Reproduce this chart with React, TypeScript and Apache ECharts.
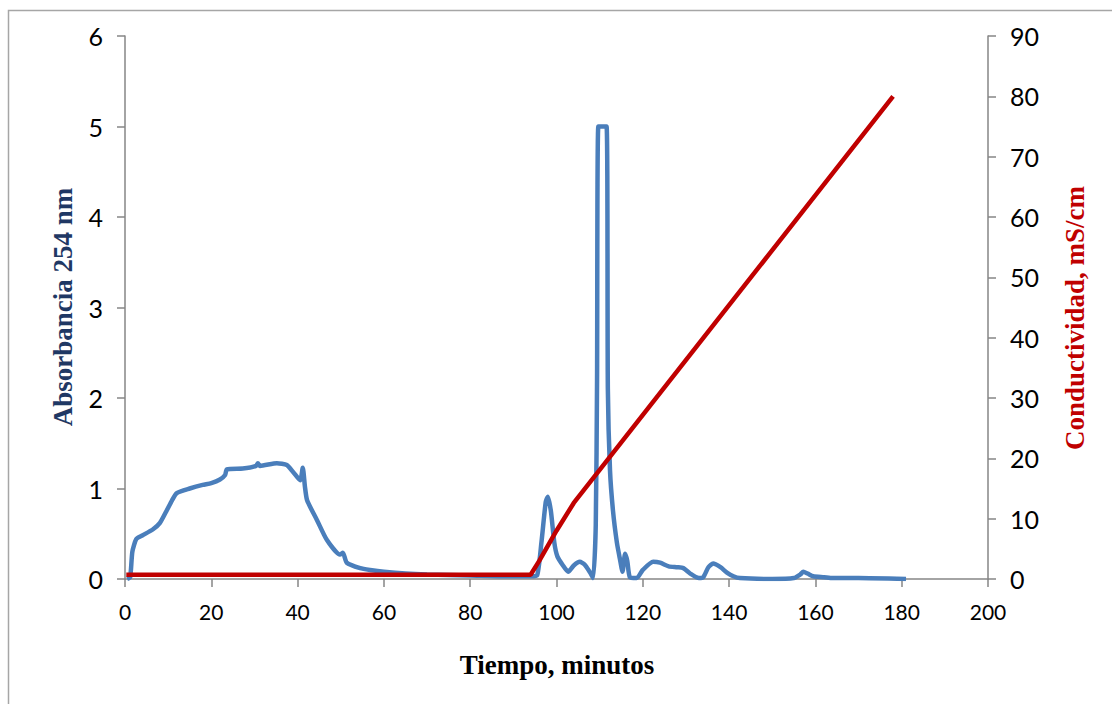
import React, { useEffect, useRef } from "react";
import * as echarts from "echarts";

const xTicks = [0, 20, 40, 60, 80, 100, 120, 140, 160, 180, 200];
const absorbancia: [number, number][] = [
  [0.5, 0.0], [1.2, 0.02], [1.7, 0.3], [2.6, 0.44], [4, 0.48], [6.5, 0.55], [8.1, 0.62],
  [9.7, 0.76], [10.9, 0.87], [12, 0.95], [15, 1.0], [18, 1.04], [20, 1.06], [22, 1.1],
  [23.2, 1.15], [23.6, 1.21], [27.3, 1.22], [30.4, 1.25], [30.8, 1.28], [31.3, 1.25],
  [35.2, 1.28], [37.5, 1.26], [39, 1.18], [40.6, 1.09], [41.2, 1.23], [41.7, 1.02],
  [42.2, 0.87], [44.5, 0.65], [46.8, 0.43], [49.8, 0.27], [50.5, 0.29], [51.4, 0.18],
  [54.5, 0.12], [56.8, 0.1], [60, 0.08], [65, 0.06], [70, 0.05], [80, 0.04], [90, 0.03],
  [94, 0.03], [95.5, 0.04], [96.5, 0.4], [97.5, 0.85], [98, 0.91], [98.7, 0.75],
  [99.5, 0.4], [100.2, 0.25], [101.5, 0.15], [102.7, 0.08], [104, 0.15], [105.4, 0.19],
  [106.5, 0.16], [107.8, 0.07], [108.5, 0.01], [109.1, 0.6], [109.4, 2.2], [109.7, 5.0],
  [111.6, 5.0], [111.9, 2.1], [112.4, 1.2], [113.1, 0.75], [114, 0.4], [114.7, 0.22],
  [115.3, 0.08], [115.9, 0.28], [116.4, 0.2], [117, 0.02], [118.6, 0.01], [120, 0.1],
  [122.4, 0.19], [124, 0.18], [126, 0.14], [128, 0.13], [129.4, 0.12], [131, 0.06],
  [133, 0.01], [134, 0.02], [135.2, 0.13], [136.3, 0.17], [138, 0.13], [139.5, 0.07],
  [141, 0.03], [142.5, 0.01], [150, 0.0], [155, 0.01], [156.5, 0.05], [157.2, 0.08],
  [158.2, 0.06], [159.5, 0.03], [162, 0.02], [164, 0.01], [170, 0.01], [181, 0.0],
];
const conductividad: [number, number][] = [
  [0.3, 0.7], [94, 0.7], [96, 3.0], [100, 8.0], [104, 12.6], [178, 80],
];

const xTitle = "Tiempo, minutos";
const yLeftTitle = "Absorbancia 254 nm";
const yRightTitle = "Conductividad, mS/cm";

export default function App() {
  const ref = useRef<HTMLDivElement>(null);
  useEffect(() => {
    if (!ref.current) return;
    const chart = echarts.init(ref.current, null, { renderer: "svg" });
    const axisLine = { show: true, lineStyle: { color: "#868686", width: 1.5 } };
    const axisTick = { show: true, inside: false, length: 8, lineStyle: { color: "#868686", width: 1.5 } };
    const labelFont = "Lato, 'Open Sans', sans-serif";
    chart.setOption({
      animation: false,
      backgroundColor: "#ffffff",
      grid: { left: 125, right: 124, top: 36, bottom: 125, containLabel: false },
      xAxis: {
        type: "value",
        min: 0,
        max: 200,
        interval: 20,
        axisLine,
        axisTick,
        splitLine: { show: false },
        axisLabel: {
          margin: 22,
          fontSize: 21,
          color: "#000",
          fontFamily: labelFont,
          formatter: (v: number) => (xTicks.includes(v) ? String(v) : ""),
        },
      },
      yAxis: [
        {
          type: "value",
          min: 0,
          max: 6,
          interval: 1,
          position: "left",
          axisLine,
          axisTick,
          splitLine: { show: false },
          axisLabel: { margin: 22, fontSize: 25, color: "#000", fontFamily: labelFont },
        },
        {
          type: "value",
          min: 0,
          max: 90,
          interval: 10,
          position: "right",
          axisLine,
          axisTick,
          splitLine: { show: false },
          axisLabel: { margin: 22, fontSize: 25, color: "#000", fontFamily: labelFont },
        },
      ],
      graphic: [
        {
          type: "rect",
          silent: true,
          shape: { x: 8.5, y: 10.5, width: 1200, height: 800 },
          style: { fill: "none", stroke: "#A6A6A6", lineWidth: 1.5 },
        },
        {
          type: "text",
          x: 557,
          y: 665,
          style: {
            text: xTitle,
            font: "bold 27px 'Liberation Serif', 'Times New Roman', serif",
            fill: "#000",
            textAlign: "center",
            textVerticalAlign: "middle",
          },
        },
        {
          type: "text",
          x: 63,
          y: 307,
          rotation: Math.PI / 2,
          style: {
            text: yLeftTitle,
            font: "bold 27px 'Liberation Serif', 'Times New Roman', serif",
            fill: "#1F3864",
            textAlign: "center",
            textVerticalAlign: "middle",
          },
        },
        {
          type: "text",
          x: 1075,
          y: 318,
          rotation: Math.PI / 2,
          style: {
            text: yRightTitle,
            font: "bold 27px 'Liberation Serif', 'Times New Roman', serif",
            fill: "#C00000",
            textAlign: "center",
            textVerticalAlign: "middle",
          },
        },
      ],
      series: [
        {
          name: "Absorbancia",
          type: "line",
          yAxisIndex: 0,
          data: absorbancia,
          showSymbol: false,
          smooth: 0.2,
          lineStyle: { color: "#4A7EBB", width: 4.5 },
          z: 2,
        },
        {
          name: "Conductividad",
          type: "line",
          yAxisIndex: 1,
          data: conductividad,
          showSymbol: false,
          lineStyle: { color: "#C00000", width: 4.5 },
          z: 3,
        },
      ],
    });
    return () => chart.dispose();
  }, []);
  return (
    <div
      ref={ref}
      style={{ position: "absolute", left: 0, top: 0, width: 1112, height: 704 }}
    />
  );
}
